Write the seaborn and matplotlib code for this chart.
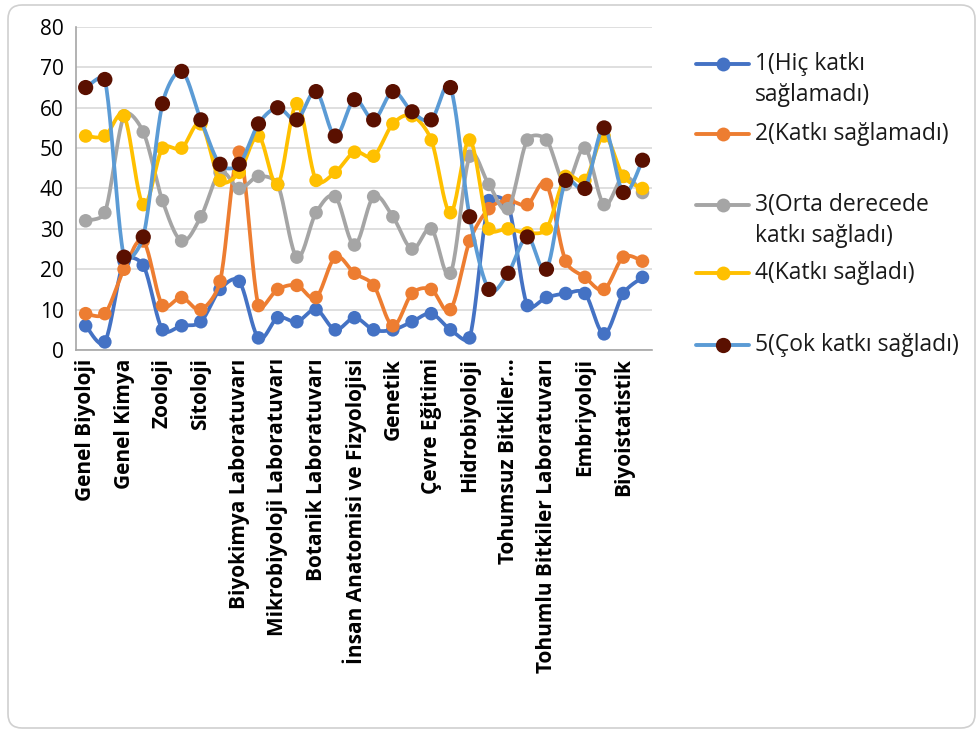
import numpy as np
import pandas as pd
import matplotlib
matplotlib.use("Agg")
import matplotlib.pyplot as plt
import seaborn as sns
from matplotlib.patches import FancyBboxPatch
from matplotlib.lines import Line2D
from matplotlib.transforms import IdentityTransform

# Course labels shown on every second category of the axis
courses = [
    "Genel Biyoloji", "Genel Kimya", "Zooloji", "Sitoloji",
    "Biyokimya Laboratuvarı", "Mikrobiyoloji Laboratuvarı",
    "Botanik Laboratuvarı", "İnsan Anatomisi ve Fizyolojisi", "Genetik",
    "Çevre Eğitimi", "Hidrobiyoloji", "Tohumsuz Bitkiler…",
    "Tohumlu Bitkiler Laboratuvarı", "Embriyoloji", "Biyoistatistik",
]
n_categories = 30

# Response counts per category (30 categories)
hic_katki = [6, 2, 22, 21, 5, 6, 7, 15, 17, 3, 8, 7, 10, 5, 8,
             5, 5, 7, 9, 5, 3, 37, 36, 11, 13, 14, 14, 4, 14, 18]
katki_yok = [9, 9, 20, 27, 11, 13, 10, 17, 49, 11, 15, 16, 13, 23, 19,
             16, 6, 14, 15, 10, 27, 35, 37, 36, 41, 22, 18, 15, 23, 22]
orta = [32, 34, 58, 54, 37, 27, 33, 44, 40, 43, 41, 23, 34, 38, 26,
        38, 33, 25, 30, 19, 48, 41, 35, 52, 52, 41, 50, 36, 43, 39]
katki_var = [53, 53, 58, 36, 50, 50, 56, 42, 44, 53, 41, 61, 42, 44, 49,
             48, 56, 58, 52, 34, 52, 30, 30, 29, 30, 43, 42, 53, 43, 40]
cok_katki = [65, 67, 23, 28, 61, 69, 57, 46, 46, 56, 60, 57, 64, 53, 62,
             57, 64, 59, 57, 65, 33, 15, 19, 28, 20, 42, 40, 55, 39, 47]

series_names = ["1(Hiç katkı\nsağlamadı)", "2(Katkı sağlamadı)",
                "3(Orta derecede\nkatkı sağladı)", "4(Katkı sağladı)",
                "5(Çok katkı sağladı)"]
series_values = [hic_katki, katki_yok, orta, katki_var, cok_katki]
line_colors = ["#4472C4", "#ED7D31", "#A5A5A5", "#FFC000", "#5B9BD5"]
marker_colors = ["#4472C4", "#ED7D31", "#A5A5A5", "#FFC000", "#5A1000"]
marker_sizes = [95, 95, 95, 95, 120]

x_idx = np.arange(n_categories)
long_df = pd.DataFrame({
    "x": np.tile(x_idx, len(series_names)),
    "value": np.concatenate(series_values),
    "series": np.repeat(series_names, n_categories),
})

# pixel size of one category step and one value unit, used for smoothing
PX_X, PX_Y = 19.2, 4.03


def smooth_curve(xs, ys, steps=24, clamp=0.4):
    """Bezier smoothing through every point, with tangents limited by the
    length of the neighbouring segments (measured on screen)."""
    P = np.column_stack([np.asarray(xs, float) * PX_X,
                         np.asarray(ys, float) * PX_Y])
    n = len(P)
    tang = np.zeros_like(P)
    for i in range(n):
        a = P[max(i - 1, 0)]
        b = P[min(i + 1, n - 1)]
        tang[i] = (b - a) / 6.0
    t = np.linspace(0, 1, steps)[:, None]
    out = []
    for i in range(n - 1):
        p0, p3 = P[i], P[i + 1]
        seg = np.linalg.norm(p3 - p0)
        d0, d1 = tang[i].copy(), tang[i + 1].copy()
        for d in (d0, d1):
            ln = np.linalg.norm(d)
            if ln > clamp * seg and ln > 0:
                d *= clamp * seg / ln
        c1, c2 = p0 + d0, p3 - d1
        pts = ((1 - t) ** 3) * p0 + 3 * ((1 - t) ** 2) * t * c1 \
            + 3 * (1 - t) * t ** 2 * c2 + t ** 3 * p3
        out.append(pts if i == 0 else pts[1:])
    out = np.vstack(out)
    return out[:, 0] / PX_X, out[:, 1] / PX_Y


sns.set_theme(style="white")
plt.rcParams["font.family"] = ["Open Sans", "DejaVu Sans"]

fig = plt.figure(figsize=(9.8, 7.35), dpi=100)
ax = fig.add_axes([0.0776, 0.5238, 0.5878, 0.4395])

for k, name in enumerate(series_names):
    sub = long_df[long_df["series"] == name]
    sx, sy = smooth_curve(sub["x"], sub["value"])
    curve = pd.DataFrame({"x": sx, "y": sy})
    sns.lineplot(data=curve, x="x", y="y", sort=False, estimator=None,
                 color=line_colors[k], linewidth=2.7, ax=ax,
                 zorder=3 + 2 * k)
    sns.scatterplot(data=sub, x="x", y="value", color=marker_colors[k],
                    s=marker_sizes[k], edgecolor="none", ax=ax,
                    zorder=4 + 2 * k, legend=False)

ax.set_xlim(-0.5, n_categories - 0.5)
ax.set_ylim(0, 80)
ax.set_yticks(np.arange(0, 81, 10))
ax.set_xticks(x_idx[::2])
ax.set_xticklabels(courses, rotation=90, fontsize=15, fontweight="bold",
                   color="#000000")
ax.tick_params(axis="y", labelsize=15, colors="#000000", length=0, pad=9)
ax.tick_params(axis="x", length=0, pad=6)
ax.set_xlabel("")
ax.set_ylabel("")
ax.yaxis.grid(True, color="#D9D9D9", linewidth=1.2)
ax.xaxis.grid(False)
for side in ["top", "right"]:
    ax.spines[side].set_visible(False)
for side in ["left", "bottom"]:
    ax.spines[side].set_color("#A6A6A6")
    ax.spines[side].set_linewidth(1.2)

# Legend entries drawn in pixel space on the right of the plot
legend_rows = [64, 134, 205, 273, 345]
line_gap = 31
for k, name in enumerate(series_names):
    yy = 735 - legend_rows[k]
    fig.add_artist(Line2D([696, 749], [yy, yy], transform=IdentityTransform(),
                          color=line_colors[k], linewidth=2.8))
    fig.add_artist(Line2D([722.5], [yy], transform=IdentityTransform(),
                          marker="o", markersize=11 if k == 4 else 10,
                          markerfacecolor=marker_colors[k],
                          markeredgecolor="none", linestyle="none"))
    for j, part in enumerate(name.split("\n")):
        fig.text(755, yy - j * line_gap, part, transform=IdentityTransform(),
                 fontsize=16.5, color="#1A1A1A", va="center", ha="left")

# Rounded chart frame
frame = FancyBboxPatch((8, 7), 967, 723, boxstyle="round,pad=0,rounding_size=14",
                       transform=IdentityTransform(), facecolor="none",
                       edgecolor="#D0D0D0", linewidth=1.2)
fig.add_artist(frame)

fig.savefig("out.png", dpi=100, facecolor="white")
